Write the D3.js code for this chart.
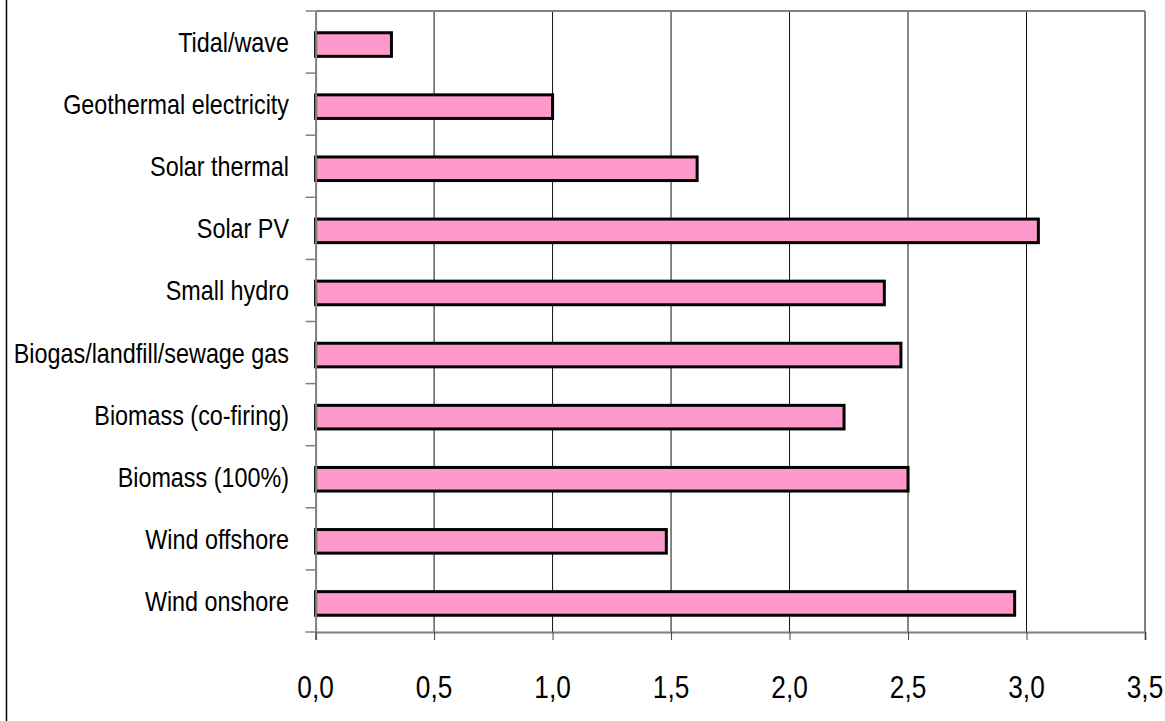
<!DOCTYPE html>
<html>
<head>
<meta charset="utf-8">
<script src="https://cdn.jsdelivr.net/npm/d3@7"></script>
<style>
  html, body { margin: 0; padding: 0; background: #fff; }
  svg { display: block; }
  .lbl { font-family: "Liberation Sans Narrow", "Arial Narrow", "Liberation Sans", Arial, sans-serif; fill: #000; }
</style>
</head>
<body>
<svg id="chart" width="1165" height="721"></svg>
<script>
const categories = ["Tidal/wave", "Geothermal electricity", "Solar thermal", "Solar PV", "Small hydro",
  "Biogas/landfill/sewage gas", "Biomass (co-firing)", "Biomass (100%)", "Wind offshore", "Wind onshore"];
const values = [0.32, 1.0, 1.61, 3.05, 2.40, 2.47, 2.23, 2.50, 1.48, 2.95];
const xTicks = [0, 0.5, 1.0, 1.5, 2.0, 2.5, 3.0, 3.5];
const xTickLabels = ["0,0", "0,5", "1,0", "1,5", "2,0", "2,5", "3,0", "3,5"];

const svg = d3.select("#chart");
const W = 1165, H = 721;
const m = { left: 315.6, right: 1145, top: 11, bottom: 632 };
const squeeze = 0.82;

const x = d3.scaleLinear().domain([0, 3.5]).range([m.left, m.right]);
const y = d3.scaleBand().domain(categories).range([m.top, m.bottom]).paddingInner(0).paddingOuter(0);

// outer chart frame (left edge visible)
svg.append("line").attr("x1", 6.5).attr("x2", 6.5).attr("y1", 0).attr("y2", H)
  .attr("stroke", "#000").attr("stroke-width", 1.5);

// gridlines
svg.append("g").selectAll("line").data(xTicks.filter(t => t > 0 && t < 3.5)).join("line")
  .attr("x1", d => x(d)).attr("x2", d => x(d))
  .attr("y1", m.top).attr("y2", m.bottom)
  .attr("stroke", "#111").attr("stroke-width", 1);

// plot frame top & right
svg.append("line").attr("x1", m.left).attr("x2", m.right).attr("y1", m.top).attr("y2", m.top)
  .attr("stroke", "#808080").attr("stroke-width", 2);
svg.append("line").attr("x1", m.right).attr("x2", m.right).attr("y1", m.top).attr("y2", m.bottom)
  .attr("stroke", "#808080").attr("stroke-width", 2);

// bars
const barH = y.bandwidth() * 0.38;
svg.append("g").selectAll("rect").data(categories).join("rect")
  .attr("x", x(0))
  .attr("y", d => y(d) + y.bandwidth() / 2 - barH / 2 + 2.5)
  .attr("width", (d, i) => x(values[i]) - x(0))
  .attr("height", barH)
  .attr("fill", "#FF99CC")
  .attr("stroke", "#000")
  .attr("stroke-width", 3);

// y axis line
const yAxis = d3.axisLeft(y).tickSize(0).tickFormat("");
const gy = svg.append("g").attr("transform", `translate(${m.left},0)`).call(yAxis);
gy.select(".domain").attr("stroke", "#808080").attr("stroke-width", 2);
// category boundary ticks
const bounds = categories.map(c => y(c)).concat([m.bottom]);
svg.append("g").selectAll("line").data(bounds).join("line")
  .attr("x1", m.left - 10).attr("x2", m.left)
  .attr("y1", d => d).attr("y2", d => d)
  .attr("stroke", "#808080").attr("stroke-width", 1.5);
// category labels (condensed)
svg.append("g").selectAll("text").data(categories).join("text")
  .attr("class", "lbl")
  .attr("font-size", 28.5)
  .attr("text-anchor", "end")
  .attr("transform", d => `translate(289,${y(d) + y.bandwidth() / 2 + 10}) scale(${squeeze},1)`)
  .text(d => d);

// x axis
const xAxis = d3.axisBottom(x).tickValues(xTicks).tickSize(8).tickFormat("");
const gx = svg.append("g").attr("transform", `translate(0,${m.bottom})`).call(xAxis);
gx.select(".domain").attr("stroke", "#808080").attr("stroke-width", 2);
gx.selectAll(".tick line").attr("stroke", "#444").attr("stroke-width", 1);
svg.append("g").selectAll("text").data(xTicks).join("text")
  .attr("class", "lbl")
  .attr("font-size", 32)
  .attr("text-anchor", "middle")
  .attr("transform", d => `translate(${x(d)},${m.bottom + 66}) scale(${squeeze},1)`)
  .text((d, i) => xTickLabels[i]);
</script>
</body>
</html>
